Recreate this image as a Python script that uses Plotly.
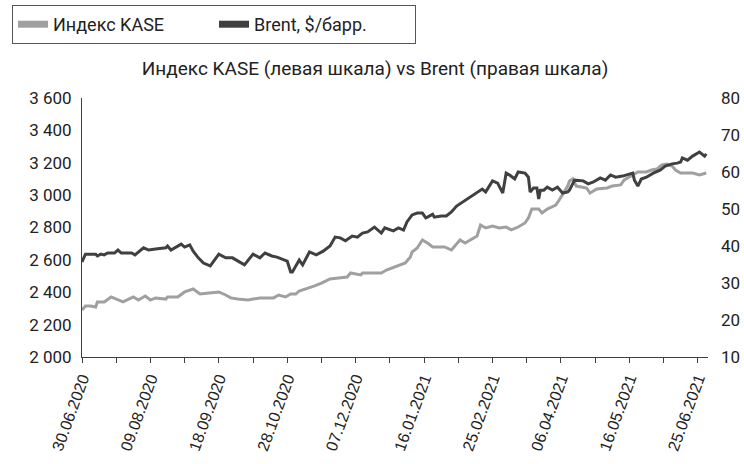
import plotly.graph_objects as go

# Brent, $/bbl (right axis)
brent_dates = [
    "2020-06-30", "2020-07-02", "2020-07-08", "2020-07-09", "2020-07-11", "2020-07-13",
    "2020-07-15", "2020-07-19", "2020-07-21", "2020-07-23", "2020-07-29", "2020-07-31",
    "2020-08-05", "2020-08-08", "2020-08-12", "2020-08-18", "2020-08-19", "2020-08-21",
    "2020-08-27", "2020-08-29", "2020-09-01", "2020-09-03", "2020-09-06", "2020-09-09",
    "2020-09-13", "2020-09-18", "2020-09-22", "2020-09-26", "2020-09-30", "2020-10-03",
    "2020-10-08", "2020-10-12", "2020-10-15", "2020-10-19", "2020-10-22", "2020-10-25",
    "2020-10-28", "2020-10-30", "2020-10-31", "2020-11-04", "2020-11-06", "2020-11-10",
    "2020-11-14", "2020-11-18", "2020-11-22", "2020-11-25", "2020-11-28", "2020-12-01",
    "2020-12-05", "2020-12-08", "2020-12-11", "2020-12-14", "2020-12-18", "2020-12-22",
    "2020-12-24", "2020-12-29", "2021-01-01", "2021-01-04", "2021-01-06", "2021-01-09",
    "2021-01-12", "2021-01-15", "2021-01-17", "2021-01-18", "2021-01-21", "2021-01-22",
    "2021-01-26", "2021-01-29", "2021-02-01", "2021-02-04", "2021-02-09", "2021-02-12",
    "2021-02-15", "2021-02-16", "2021-02-19", "2021-02-21", "2021-02-25", "2021-02-28",
    "2021-03-03", "2021-03-05", "2021-03-07", "2021-03-10", "2021-03-12", "2021-03-16",
    "2021-03-18", "2021-03-19", "2021-03-21", "2021-03-23", "2021-03-24", "2021-03-25",
    "2021-03-27", "2021-03-29", "2021-04-01", "2021-04-04", "2021-04-07", "2021-04-10",
    "2021-04-11", "2021-04-14", "2021-04-19", "2021-04-22", "2021-04-25", "2021-04-29",
    "2021-05-02", "2021-05-05", "2021-05-08", "2021-05-12", "2021-05-15", "2021-05-18",
    "2021-05-19", "2021-05-21", "2021-05-23", "2021-05-26", "2021-05-30", "2021-06-03",
    "2021-06-06", "2021-06-10", "2021-06-13", "2021-06-15", "2021-06-16", "2021-06-19",
    "2021-06-22", "2021-06-25", "2021-06-26", "2021-06-29", "2021-06-30",
]
brent = [
    35.7, 37.8, 37.8, 37.3, 37.8, 37.6,
    38.1, 38.1, 38.9, 38.1, 38.1, 37.6,
    39.5, 38.9, 39.2, 39.5, 40.0, 38.9,
    40.5, 39.7, 40.3, 38.6, 36.8, 35.4,
    34.6, 37.8, 36.8, 36.8, 35.7, 34.9,
    37.8, 36.8, 38.1, 37.3, 37.0, 36.5,
    35.9, 33.0, 33.0, 36.2, 34.9, 38.4,
    37.6, 38.6, 40.0, 42.4, 42.2, 41.4,
    42.7, 42.4, 43.5, 43.8, 45.1, 43.5,
    44.9, 44.1, 44.9, 44.3, 46.5, 48.4,
    48.9, 48.9, 47.6, 47.8, 48.6, 47.8,
    48.1, 48.1, 49.2, 50.8, 52.4, 53.2,
    54.3, 54.6, 55.4, 54.6, 57.6, 57.0,
    54.3, 59.7, 59.2, 58.1, 60.0, 59.7,
    58.6, 54.6, 55.7, 55.7, 52.7, 55.1,
    55.1, 55.9, 55.1, 55.9, 54.3, 54.6,
    55.1, 57.8, 57.6, 56.8, 57.3, 58.4,
    57.8, 59.2, 58.6, 58.9, 59.2, 59.7,
    57.8, 56.2, 58.1, 58.6, 59.7, 60.5,
    61.6, 62.2, 62.4, 62.7, 63.8, 63.2,
    64.3, 65.1, 65.4, 64.3, 64.9,
]

# KASE index (left axis)
kase_dates = [
    "2020-06-30", "2020-07-02", "2020-07-05", "2020-07-08", "2020-07-09", "2020-07-13",
    "2020-07-17", "2020-07-20", "2020-07-24", "2020-07-30", "2020-08-02", "2020-08-06",
    "2020-08-09", "2020-08-12", "2020-08-18", "2020-08-19", "2020-08-25", "2020-08-29",
    "2020-09-03", "2020-09-07", "2020-09-12", "2020-09-18", "2020-09-22", "2020-09-25",
    "2020-09-29", "2020-10-05", "2020-10-12", "2020-10-20", "2020-10-23", "2020-10-27",
    "2020-10-30", "2020-11-02", "2020-11-04", "2020-11-10", "2020-11-13", "2020-11-17",
    "2020-11-22", "2020-11-27", "2020-12-02", "2020-12-04", "2020-12-10", "2020-12-11",
    "2020-12-22", "2020-12-25", "2020-12-30", "2021-01-01", "2021-01-02", "2021-01-05",
    "2021-01-08", "2021-01-09", "2021-01-12", "2021-01-15", "2021-01-18", "2021-01-21",
    "2021-01-25", "2021-01-28", "2021-02-01", "2021-02-06", "2021-02-09", "2021-02-13",
    "2021-02-16", "2021-02-18", "2021-02-21", "2021-02-25", "2021-03-01", "2021-03-05",
    "2021-03-08", "2021-03-12", "2021-03-16", "2021-03-18", "2021-03-20", "2021-03-24",
    "2021-03-26", "2021-03-29", "2021-04-03", "2021-04-05", "2021-04-07", "2021-04-10",
    "2021-04-11", "2021-04-13", "2021-04-15", "2021-04-21", "2021-04-23", "2021-04-27",
    "2021-05-03", "2021-05-06", "2021-05-11", "2021-05-13", "2021-05-18", "2021-05-21",
    "2021-05-26", "2021-05-29", "2021-06-01", "2021-06-04", "2021-06-07", "2021-06-10",
    "2021-06-12", "2021-06-15", "2021-06-18", "2021-06-22", "2021-06-26", "2021-06-30",
]
kase = [
    2290, 2315, 2315, 2309, 2340, 2340,
    2371, 2358, 2340, 2371, 2352, 2377,
    2352, 2365, 2358, 2371, 2371, 2402,
    2420, 2389, 2395, 2402, 2383, 2365,
    2358, 2352, 2365, 2365, 2383, 2371,
    2389, 2389, 2408, 2426, 2439, 2457,
    2482, 2488, 2494, 2519, 2507, 2519,
    2519, 2537, 2556, 2568, 2568, 2581,
    2618, 2649, 2673, 2723, 2704, 2680,
    2680, 2680, 2661, 2723, 2704, 2729,
    2748, 2815, 2797, 2809, 2797, 2803,
    2785, 2803, 2828, 2859, 2914, 2914,
    2890, 2914, 2939, 2970, 3007, 3056,
    3087, 3100, 3056, 3044, 3013, 3038,
    3044, 3056, 3063, 3094, 3124, 3143,
    3143, 3155, 3161, 3186, 3192, 3180,
    3155, 3137, 3137, 3137, 3124, 3137,
]

KASE_COLOR = "#a0a0a0"
BRENT_COLOR = "#404040"
AXIS_COLOR = "#404040"
TEXT_COLOR = "#222222"
DAY_MS = 86400000

fig = go.Figure()

fig.add_trace(
    go.Scatter(
        x=kase_dates, y=kase, mode="lines", name="Индекс KASE",
        line=dict(color=KASE_COLOR, width=3), showlegend=False,
    )
)
fig.add_trace(
    go.Scatter(
        x=brent_dates, y=brent, mode="lines", name="Brent, $/барр.",
        line=dict(color=BRENT_COLOR, width=3), yaxis="y2", showlegend=False,
    )
)
# legend-only entries with a thicker stroke
for name, color in [("Индекс KASE", KASE_COLOR), ("Brent, $/барр.", BRENT_COLOR)]:
    fig.add_trace(
        go.Scatter(x=[None], y=[None], mode="lines", name=name,
                   line=dict(color=color, width=7))
    )

fig.update_layout(
    width=744,
    height=464,
    margin=dict(l=82, r=36, t=98, b=107),
    paper_bgcolor="white",
    plot_bgcolor="white",
    separators=", ",
    font=dict(family="Roboto", size=16, color=TEXT_COLOR),
    title=dict(
        text="Индекс KASE (левая шкала) vs Brent (правая шкала)",
        x=375 / 744, xref="container", xanchor="center",
        y=1 - 68 / 464, yref="container", yanchor="middle",
        font=dict(family="Roboto", size=19, color=TEXT_COLOR),
    ),
    legend=dict(
        orientation="h",
        xref="container", yref="container",
        x=12 / 744, y=1 - 5 / 464, xanchor="left", yanchor="top",
        bordercolor="#555555", borderwidth=1, bgcolor="white",
        font=dict(family="Roboto", size=18, color=TEXT_COLOR),
        entrywidth=156, entrywidthmode="pixels",
    ),
    showlegend=True,
)

fig.update_xaxes(
    type="date",
    range=["2020-06-30", "2021-07-01"],
    tick0="2020-06-30",
    dtick=40 * DAY_MS,
    tickformat="%d.%m.%Y",
    tickangle=-70,
    ticks="outside", ticklen=5, tickcolor=AXIS_COLOR,
    minor=dict(dtick=20 * DAY_MS, tick0="2020-06-30", ticks="outside",
               ticklen=5, tickcolor=AXIS_COLOR),
    showline=True, linecolor=AXIS_COLOR, linewidth=1,
    showgrid=False, zeroline=False, automargin=False,
    tickfont=dict(family="Liberation Sans", size=16, color=TEXT_COLOR),
)
fig.update_layout(
    yaxis=dict(
        range=[2000, 3600], dtick=200, tickformat=",d",
        showline=True, linecolor=AXIS_COLOR, linewidth=1,
        showgrid=False, zeroline=False, ticks="", automargin=False,
        ticklabelstandoff=6,
        tickfont=dict(family="Roboto", size=17, color=TEXT_COLOR),
    ),
    yaxis2=dict(
        range=[10, 80], dtick=10, overlaying="y", side="right",
        showline=False, showgrid=False, zeroline=False, ticks="", automargin=False,
        ticklabelstandoff=12,
        tickfont=dict(family="Roboto", size=17, color=TEXT_COLOR),
    ),
)

# the page's default 8px body margin would shift the figure
fig.write_html(
    "out.html",
    config={"displayModeBar": False},
    post_script="document.body.style.margin = '0';",
)
